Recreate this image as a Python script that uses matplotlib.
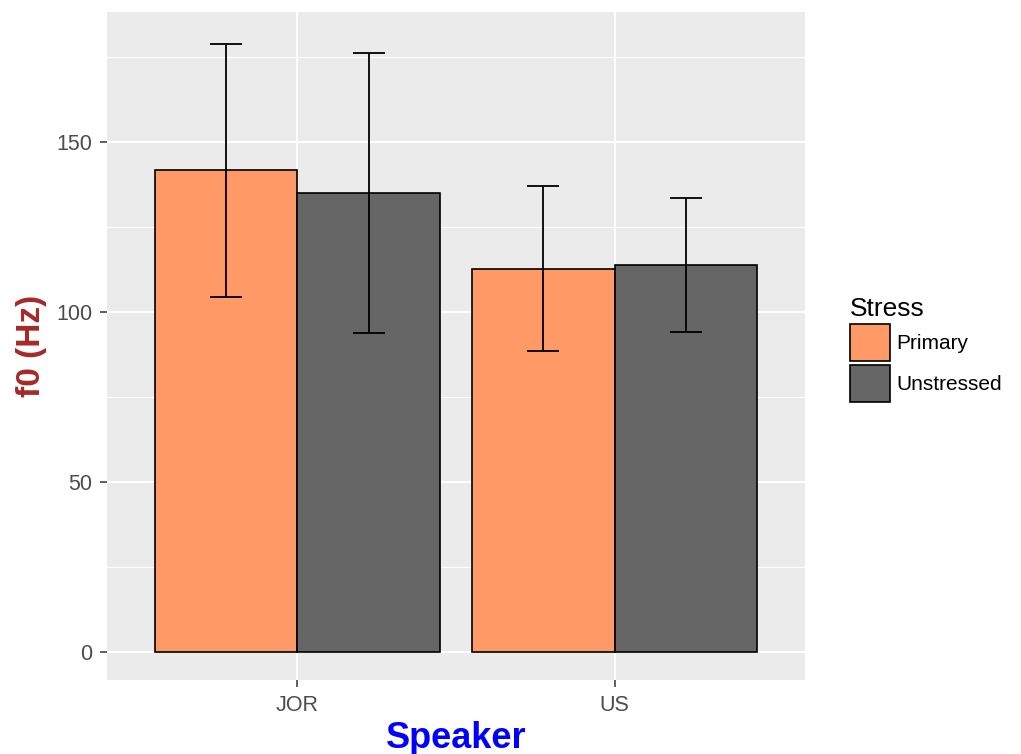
import numpy as np
import matplotlib.pyplot as plt
from matplotlib.patches import Patch

plt.rcParams['font.family'] = ['Liberation Sans', 'DejaVu Sans']

speakers = ['JOR', 'US']
stress = ['Primary', 'Unstressed']
colors = ['#FF9966', '#666666']

# mean f0 per speaker group, and the error half-widths
f0_mean = {
    'Primary': [141.6, 112.7],
    'Unstressed': [135.0, 113.7],
}
f0_err = {
    'Primary': [37.3, 24.3],
    'Unstressed': [41.2, 19.7],
}

fig = plt.figure(figsize=(10.21, 7.54), dpi=100)
ax = fig.add_axes([107/1021, 1-680/754, 698/1021, 668/754])
ax.set_facecolor('#EBEBEB')

x = np.arange(1, len(speakers) + 1)
w = 0.45
offsets = [-w/2, w/2]

for s, col, off in zip(stress, colors, offsets):
    ax.bar(x + off, f0_mean[s], width=w, color=col, edgecolor='black',
           linewidth=1.2, zorder=3, label=s)
    ax.errorbar(x + off, f0_mean[s], yerr=f0_err[s], fmt='none',
                ecolor='black', elinewidth=1.3, capsize=11.5,
                capthick=1.3, zorder=4)

ax.set_xlim(0.4, 2.6)
ax.set_ylim(-8.2, 188.2)
ax.set_xticks(x)
ax.set_xticklabels(speakers)
ax.set_yticks([0, 50, 100, 150])
ax.set_yticks([25, 75, 125, 175], minor=True)

ax.grid(which='major', color='white', linewidth=1.5, zorder=0)
ax.grid(which='minor', axis='y', color='white', linewidth=0.8, zorder=0)
ax.set_axisbelow(True)
for sp in ax.spines.values():
    sp.set_visible(False)

ax.tick_params(axis='both', which='major', colors='#333333', length=5,
               width=1.1, labelsize=15.5, labelcolor='#4D4D4D', pad=5.5)
ax.tick_params(axis='y', which='minor', length=0)

ax.set_xlabel('Speaker', fontsize=26, fontweight='bold', color='blue')
ax.xaxis.set_label_coords(0.5, -0.061)
ax.set_ylabel('f0 (Hz)', fontsize=24, fontweight='bold', color='#A52A2A')
ax.yaxis.set_label_coords(-0.086, 0.5)

handles = [Patch(facecolor=c, edgecolor='black', linewidth=1.2) for c in colors]
leg = fig.legend(handles, stress, title='Stress', loc='upper left',
                 bbox_to_anchor=(850/1021, 1-297/754), frameon=False,
                 fontsize=15, title_fontsize=19, handlelength=1.92,
                 handleheight=2.36, labelspacing=0.18, handletextpad=0.3,
                 borderpad=0, borderaxespad=0, alignment='left')
# small gap between the title and the keys
leg._legend_box.sep = 2

fig.savefig('out.png', dpi=100)
